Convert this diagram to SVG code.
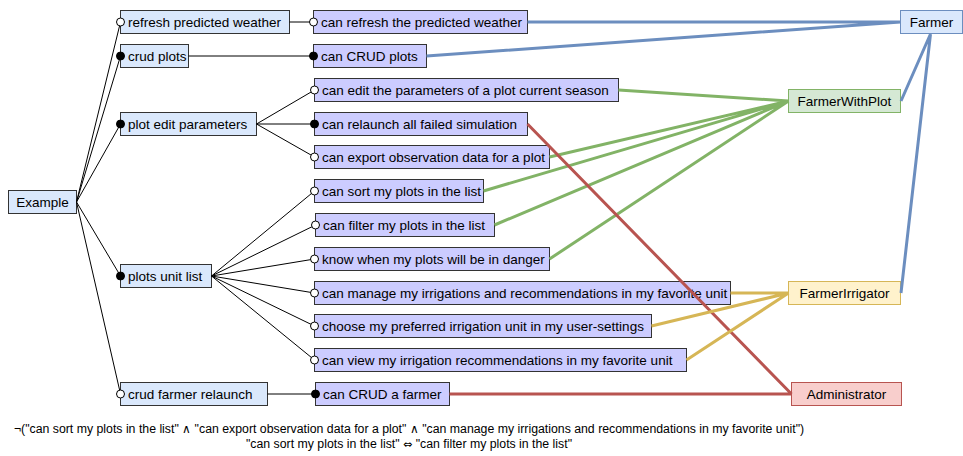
<svg xmlns="http://www.w3.org/2000/svg" width="963" height="456" viewBox="0 0 963 456">
<style>
text{font-family:"Liberation Sans",Arial,sans-serif;font-size:13.5px;fill:#000;dominant-baseline:central}
.f{fill:#dae8fc;stroke:#333;stroke-width:1}
.r{fill:#ccccff;stroke:#333;stroke-width:1}
.c{stroke:#000;stroke-width:1;fill:none}
.o{fill:#fff;stroke:#000;stroke-width:1}
.k{fill:#000;stroke:#000;stroke-width:1}
.bl{stroke:#6c8ebf;stroke-width:3;fill:none}
.gr{stroke:#82b366;stroke-width:3;fill:none}
.rd{stroke:#b85450;stroke-width:3;fill:none}
.yl{stroke:#d6b656;stroke-width:3;fill:none}
.m{text-anchor:middle}
.note{font-size:12.3px;text-anchor:middle;dominant-baseline:auto}
.sym{font-family:"DejaVu Sans",sans-serif;font-size:11px}
</style>
<rect width="963" height="456" fill="#fff"/>
<g id="root"><rect class="f" x="8.5" y="190.5" width="68" height="23"/><text class="m" x="42.5" y="202">Example</text></g>
<g id="f1"><rect class="f" x="120.5" y="10.5" width="169" height="23"/><text x="128" y="22">refresh predicted weather</text></g>
<g id="f2"><rect class="f" x="120.5" y="44.5" width="68" height="23"/><text x="128" y="56">crud plots</text></g>
<g id="f3"><rect class="f" x="120.5" y="112.5" width="136" height="23"/><text x="128" y="124">plot edit parameters</text></g>
<g id="f4"><rect class="f" x="120.5" y="264.5" width="91" height="23"/><text x="128" y="276">plots unit list</text></g>
<g id="f5"><rect class="f" x="120.5" y="382.5" width="147" height="23"/><text x="128" y="394">crud farmer relaunch</text></g>
<g id="r1"><rect class="r" x="313.5" y="10.5" width="214" height="23"/><text x="321" y="22">can refresh the predicted weather</text></g>
<g id="r2"><rect class="r" x="313.5" y="44.5" width="113" height="23"/><text x="321" y="56">can CRUD plots</text></g>
<g id="r3"><rect class="r" x="314.5" y="78.5" width="304" height="23"/><text x="322" y="90">can edit the parameters of a plot current season</text></g>
<g id="r4"><rect class="r" x="314.5" y="112.5" width="213" height="23"/><text x="322" y="124">can relaunch all failed simulation</text></g>
<g id="r5"><rect class="r" x="314.5" y="145.5" width="235" height="23"/><text x="322" y="157">can export observation data for a plot</text></g>
<g id="r6"><rect class="r" x="314.5" y="179.5" width="169" height="23"/><text x="322" y="191">can sort my plots in the list</text></g>
<g id="r7"><rect class="r" x="315.5" y="213.5" width="179" height="23"/><text x="323" y="225">can filter my plots in the list</text></g>
<g id="r8"><rect class="r" x="314.5" y="247.5" width="235" height="23"/><text x="322" y="259">know when my plots will be in danger</text></g>
<g id="r9"><rect class="r" x="314.5" y="281.5" width="416" height="23"/><text x="322" y="293">can manage my irrigations and recommendations in my favorite unit</text></g>
<g id="r10"><rect class="r" x="314.5" y="314.5" width="337" height="23"/><text x="322" y="326">choose my preferred irrigation unit in my user-settings</text></g>
<g id="r11"><rect class="r" x="314.5" y="348.5" width="372" height="23"/><text x="322" y="360">can view my irrigation recommendations in my favorite unit</text></g>
<g id="r12"><rect class="r" x="315.5" y="382.5" width="134" height="23"/><text x="323" y="394">can CRUD a farmer</text></g>
<g id="farmer"><rect x="900.5" y="10.5" width="62" height="23" fill="#dae8fc" stroke="#6c8ebf"/><text class="m" x="931.5" y="22">Farmer</text></g>
<g id="farmerWithPlot"><rect x="788.5" y="89.5" width="112" height="23" fill="#d5e8d4" stroke="#82b366"/><text class="m" x="844.5" y="101">FarmerWithPlot</text></g>
<g id="farmerIrrigator"><rect x="788.5" y="281.5" width="112" height="23" fill="#fff2cc" stroke="#d6b656"/><text class="m" x="844.5" y="293">FarmerIrrigator</text></g>
<g id="administrator"><rect x="791.5" y="382.5" width="110" height="23" fill="#f8cecc" stroke="#b85450"/><text class="m" x="846.5" y="394">Administrator</text></g>
<g id="connectors">
<path class="c" d="M76.5 202L120.5 22M76.5 202L120.5 56M76.5 202L120.5 124M76.5 202L120.5 276M76.5 202L120.5 394"/>
<path class="c" d="M289.5 22H313.5M188.5 56H313.5M256.5 124L314.5 90M256.5 124H314.5M256.5 124L314.5 157"/>
<path class="c" d="M211.5 276L314.5 191M211.5 276L315.5 225M211.5 276L314.5 259M211.5 276L314.5 293M211.5 276L314.5 326M211.5 276L314.5 360M267.5 394H315.5"/>
<circle class="o" cx="120.5" cy="22" r="4"/>
<circle class="k" cx="120.5" cy="56" r="4"/>
<circle class="k" cx="120.5" cy="124" r="4"/>
<circle class="k" cx="120.5" cy="276" r="4"/>
<circle class="o" cx="120.5" cy="394" r="4"/>
<circle class="o" cx="313.5" cy="22" r="4"/>
<circle class="k" cx="313.5" cy="56" r="4"/>
<circle class="o" cx="314.5" cy="90" r="4"/>
<circle class="k" cx="314.5" cy="124" r="4"/>
<circle class="o" cx="314.5" cy="157" r="4"/>
<circle class="o" cx="314.5" cy="191" r="4"/>
<circle class="o" cx="315.5" cy="225" r="4"/>
<circle class="o" cx="314.5" cy="259" r="4"/>
<circle class="o" cx="314.5" cy="293" r="4"/>
<circle class="o" cx="314.5" cy="326" r="4"/>
<circle class="o" cx="314.5" cy="360" r="4"/>
<circle class="k" cx="315.5" cy="394" r="4"/>
<path class="bl" d="M527.5 22L900.5 22M426.5 56L900.5 22M930.5 34L901 101M930.5 34L901 293"/>
<path class="gr" d="M618.5 90L788.5 101M549.5 157L788.5 101M483.5 191L788.5 101M494.5 225L788.5 101M549.5 259L788.5 101"/>
<path class="rd" d="M527.5 124L791.5 394M449.5 394L791.5 394"/>
<path class="yl" d="M730.5 293L788.5 293M651.5 326L788.5 293M686.5 360L788.5 293"/>
</g>
<text class="note" x="409" y="433">¬("can sort my plots in the list" ∧ "can export observation data for a plot" ∧ "can manage my irrigations and recommendations in my favorite unit")</text>
<text class="note" x="409" y="448">"can sort my plots in the list" <tspan class="sym">⇔</tspan> "can filter my plots in the list"</text>
</svg>
